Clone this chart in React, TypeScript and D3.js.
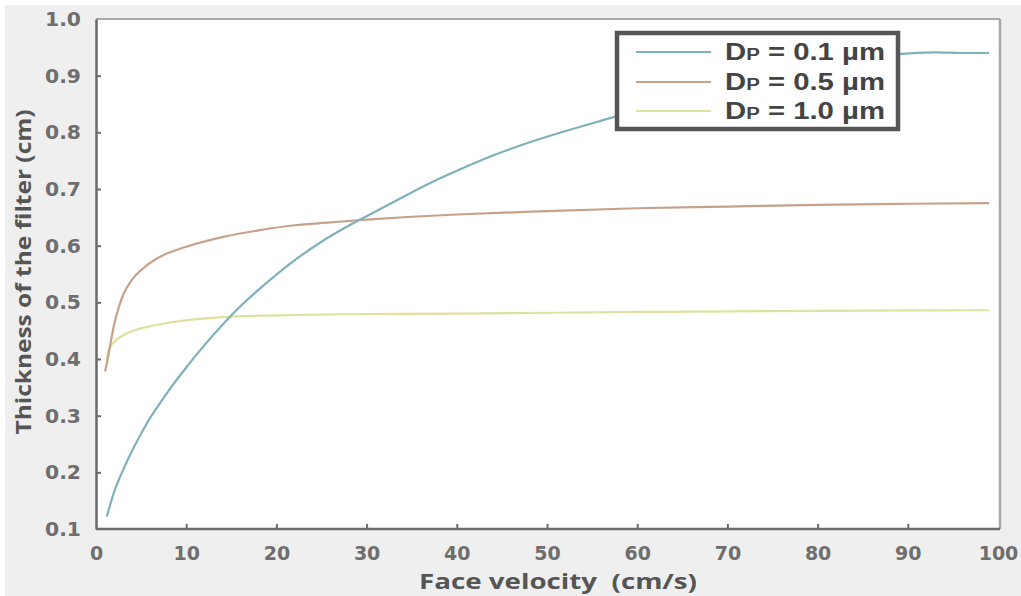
import { useEffect, useRef } from "react";
import * as d3 from "d3";

// Dp = 0.1 µm
const vel01 = [1.2, 2, 3, 4, 5, 6, 7, 8, 10, 12, 14, 16, 18, 20, 22, 25, 28, 30, 33, 37, 40, 44, 48, 52, 57, 62, 67, 72, 77, 82, 86, 89, 93, 96, 99];
const thick01 = [0.122, 0.165, 0.204, 0.238, 0.268, 0.296, 0.32, 0.343, 0.385, 0.424, 0.46, 0.493, 0.522, 0.549, 0.574, 0.607, 0.635, 0.652, 0.677, 0.71, 0.732, 0.759, 0.782, 0.802, 0.825, 0.848, 0.868, 0.886, 0.902, 0.918, 0.93, 0.938, 0.941, 0.94, 0.94];

// Dp = 0.5 µm
const vel05 = [1.0, 1.3, 1.55, 2, 2.5, 3, 4, 5, 6.7, 8, 10.4, 14, 18, 22, 26, 30, 35, 40, 50, 60, 70, 80, 90, 99];
const thick05 = [0.378, 0.4, 0.422, 0.46, 0.49, 0.513, 0.54, 0.557, 0.577, 0.587, 0.6, 0.615, 0.627, 0.636, 0.641, 0.646, 0.651, 0.655, 0.661, 0.666, 0.669, 0.672, 0.674, 0.675];

// Dp = 1.0 µm
const vel10 = [1.2, 1.4, 1.9, 3, 4, 5, 6.7, 8, 10.4, 14, 20, 27, 40, 60, 80, 99];
const thick10 = [0.4, 0.416, 0.428, 0.442, 0.449, 0.454, 0.46, 0.464, 0.469, 0.474, 0.477, 0.479, 0.48, 0.483, 0.485, 0.486];

const seriesNames = ["0.1", "0.5", "1.0"];
const seriesColors = ["#7fb1bb", "#c6a28c", "#e0e19e"];

const xTicks = [0, 10, 20, 30, 40, 50, 60, 70, 80, 90, 100];
const yTicks = [0.1, 0.2, 0.3, 0.4, 0.5, 0.6, 0.7, 0.8, 0.9, 1.0];

export default function App() {
    const ref = useRef<SVGSVGElement>(null);

    useEffect(() => {
        const svg = d3.select(ref.current);
        svg.selectAll("*").remove();

        const x = d3.scaleLinear().domain([0, 100]).range([96, 998]);
        const y = d3.scaleLinear().domain([0.1, 1.0]).range([529, 19]);

        // background
        svg.append("rect").attr("x", 0).attr("y", 0).attr("width", 1021).attr("height", 596).attr("fill", "#ffffff");
        svg.append("rect").attr("x", 5).attr("y", 5).attr("width", 1016).attr("height", 591).attr("fill", "#efefef");
        svg.append("rect")
            .attr("x", x(0)).attr("y", y(1.0))
            .attr("width", 1000 - x(0)).attr("height", y(0.1) - y(1.0))
            .attr("fill", "#ffffff");

        // lines
        const series = [
            vel01.map((v, i) => [v, thick01[i]]),
            vel05.map((v, i) => [v, thick05[i]]),
            vel10.map((v, i) => [v, thick10[i]]),
        ];
        const line = d3.line<number[]>()
            .x(d => x(d[0]))
            .y(d => y(d[1]))
            .curve(d3.curveMonotoneX);

        // draw in reverse so the blue sits on top
        [2, 1, 0].forEach(i => {
            svg.append("path")
                .datum(series[i])
                .attr("fill", "none")
                .attr("stroke", seriesColors[i])
                .attr("stroke-width", 2.2)
                .attr("d", line);
        });

        // plot frame (top / right)
        svg.append("line").attr("x1", x(0)).attr("x2", 1000).attr("y1", y(1.0)).attr("y2", y(1.0))
            .attr("stroke", "#a8a8a8").attr("stroke-width", 2);
        svg.append("line").attr("x1", 1000).attr("x2", 1000).attr("y1", y(1.0)).attr("y2", y(0.1))
            .attr("stroke", "#a8a8a8").attr("stroke-width", 2.5);

        // x axis
        const gx = svg.append("g")
            .attr("transform", `translate(0,${y(0.1)})`)
            .call(d3.axisBottom(x).tickValues(xTicks).tickSize(-5).tickSizeOuter(0).tickPadding(14).tickFormat(d3.format("d")));
        gx.select(".domain").attr("stroke", "#6a6a6a").attr("stroke-width", 2.5).attr("d", `M${x(0)},0H1000`);
        gx.selectAll(".tick line").attr("stroke", "#6a6a6a").attr("stroke-width", 2);
        gx.selectAll(".tick text")
            .attr("fill", "#6e6e6e")
            .attr("font-family", "DejaVu Sans")
            .attr("font-weight", "bold")
            .attr("font-size", 19)
            .attr("dy", "0.9em");
        gx.selectAll(".tick").filter((d: any) => d === 0 || d === 100).select("line").remove();

        // y axis
        const gy = svg.append("g")
            .attr("transform", `translate(${x(0)},0)`)
            .call(d3.axisLeft(y).tickValues(yTicks).tickSize(-5).tickSizeOuter(0).tickPadding(15).tickFormat(d3.format(".1f")));
        gy.select(".domain").attr("stroke", "#6a6a6a").attr("stroke-width", 2.5);
        gy.selectAll(".tick line").attr("stroke", "#6a6a6a").attr("stroke-width", 2);
        gy.selectAll(".tick text")
            .attr("fill", "#6e6e6e")
            .attr("font-family", "DejaVu Sans")
            .attr("font-weight", "bold")
            .attr("font-size", 20)
            .attr("textLength", 36)
            .attr("lengthAdjust", "spacingAndGlyphs");
        gy.selectAll(".tick").filter((d: any) => d === 0.1 || d === 1.0).select("line").remove();

        // axis titles
        svg.append("text")
            .attr("x", 558).attr("y", 589)
            .attr("text-anchor", "middle")
            .attr("font-family", "Open Sans")
            .attr("font-weight", "bold")
            .attr("font-size", 22)
            .attr("fill", "#555")
            .attr("xml:space", "preserve")
            .attr("textLength", 278)
            .attr("lengthAdjust", "spacingAndGlyphs")
            .text("Face velocity  (cm/s)");
        svg.append("text")
            .attr("transform", "translate(31,272) rotate(-90)")
            .attr("text-anchor", "middle")
            .attr("font-family", "Open Sans")
            .attr("font-weight", "bold")
            .attr("font-size", 22)
            .attr("fill", "#555")
            .attr("textLength", 325)
            .attr("lengthAdjust", "spacingAndGlyphs")
            .text("Thickness of the filter (cm)");

        // legend
        const lg = svg.append("g");
        lg.append("rect")
            .attr("x", 617).attr("y", 33).attr("width", 281).attr("height", 96)
            .attr("fill", "#ffffff").attr("stroke", "#555").attr("stroke-width", 4.5);
        const rowsY = [52, 82, 111];
        seriesNames.forEach((name, i) => {
            lg.append("line")
                .attr("x1", 636).attr("x2", 711)
                .attr("y1", rowsY[i]).attr("y2", rowsY[i])
                .attr("stroke", seriesColors[i]).attr("stroke-width", 2.2);
            const t = lg.append("text")
                .attr("x", 725).attr("y", rowsY[i] + 8)
                .attr("font-family", "Liberation Sans")
                .attr("font-weight", "bold")
                .attr("font-size", 23)
                .attr("fill", "#444")
                .attr("textLength", 160)
                .attr("lengthAdjust", "spacingAndGlyphs");
            t.append("tspan").text("D");
            t.append("tspan").attr("font-size", 16).text("P");
            t.append("tspan").text(` = ${name} µm`);
        });
    }, []);

    return (
        <svg
            ref={ref}
            width={1021}
            height={596}
            style={{ position: "absolute", left: 0, top: 0 }}
        />
    );
}
